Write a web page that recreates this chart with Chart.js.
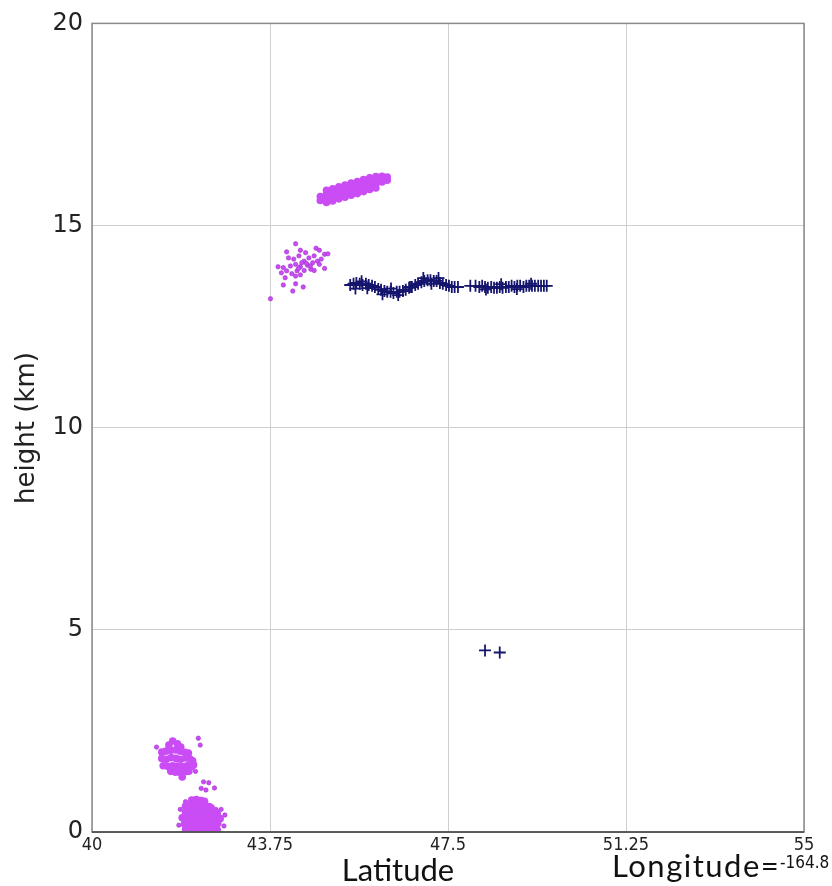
<!DOCTYPE html>
<html>
<head>
<meta charset="utf-8">
<script src="https://cdn.jsdelivr.net/npm/chart.js@4/dist/chart.umd.min.js"></script>
<style>
  body { margin: 0; background: #fff; }
  #wrap { width: 832px; height: 886px; position: relative; }
</style>
</head>
<body>
<div id="wrap"><canvas id="myChart"></canvas></div>
<script>
// tick positions
var latTicks = [40, 43.75, 47.5, 51.25, 55];
var hgtTicks = [0, 5, 10, 15, 20];

// upper elongated cloud (dense)
var upperLat = [44.81, 44.94, 45.07, 45.20, 45.33, 45.46, 45.59, 45.72, 45.85, 45.98, 46.11, 46.22,
                44.81, 44.94, 45.07, 45.20, 45.33, 45.46, 45.59, 45.72, 45.85, 45.98, 46.11, 46.22,
                44.94, 45.07, 45.20, 45.33, 45.46, 45.59, 45.72, 45.85, 45.98, 46.11,
                44.94, 45.07, 45.20, 45.33, 45.46, 45.59, 45.72, 45.85, 45.98];
var upperHgt = [15.72, 15.77, 15.81, 15.86, 15.90, 15.95, 15.99, 16.04, 16.09, 16.13, 16.18, 16.20,
                15.62, 15.67, 15.71, 15.76, 15.80, 15.85, 15.89, 15.94, 15.99, 16.03, 16.08, 16.12,
                15.87, 15.91, 15.96, 16.00, 16.05, 16.09, 16.14, 16.18, 16.21, 16.22,
                15.57, 15.61, 15.66, 15.70, 15.75, 15.79, 15.84, 15.89, 15.93];

// loose group just under it
var midLat = [44.29, 44.10, 44.39, 44.50, 44.72, 44.79, 44.90, 44.97, 44.14, 44.25,
              44.36, 44.47, 44.57, 44.68, 44.75, 44.83, 43.92, 44.03, 44.18, 44.29,
              44.39, 44.54, 44.65, 44.79, 44.90, 43.99, 44.10, 44.21, 44.32, 44.47,
              44.61, 44.07, 44.29, 44.39, 44.68, 44.03, 44.29, 44.45, 44.23, 43.76,
              44.42, 44.52, 44.35, 44.60];
var midHgt = [14.55, 14.35, 14.39, 14.33, 14.44, 14.39, 14.29, 14.30, 14.20, 14.17,
              14.25, 14.12, 14.20, 14.25, 14.12, 14.17, 13.98, 13.96, 14.00, 14.04,
              13.98, 14.02, 14.08, 14.04, 13.94, 13.83, 13.88, 13.81, 13.88, 13.89,
              13.92, 13.71, 13.75, 13.78, 13.89, 13.53, 13.56, 13.48, 13.38, 13.19,
              14.08, 14.06, 13.94, 14.00];

// low cloud around 1.8 km (dense)
var lowLat = [41.62, 41.70, 41.80, 41.87,
              41.47, 41.56, 41.66, 41.76, 41.86, 41.96, 42.03,
              41.47, 41.57, 41.67, 41.77, 41.87, 41.97, 42.07, 42.12,
              41.50, 41.60, 41.70, 41.80, 41.90, 42.00, 42.10, 42.14,
              41.66, 41.76, 41.86, 41.96, 42.04, 41.90];
var lowHgt = [2.15, 2.25, 2.18, 2.10,
              1.98, 2.00, 2.02, 2.03, 2.00, 1.97, 1.95,
              1.82, 1.80, 1.84, 1.82, 1.80, 1.83, 1.80, 1.76,
              1.64, 1.62, 1.64, 1.63, 1.62, 1.64, 1.62, 1.66,
              1.50, 1.48, 1.47, 1.49, 1.50, 1.36];
var lowStrayLat = [42.24, 42.28, 41.36, 42.18];
var lowStrayHgt = [2.32, 2.15, 2.10, 1.50];

// near-surface cloud (dense)
var sfcLat = [42.10, 42.20, 42.30, 42.37,
              41.97, 42.07, 42.17, 42.27, 42.37, 42.47, 42.51,
              41.97, 42.07, 42.17, 42.27, 42.37, 42.47, 42.57, 42.64,
              41.90, 42.00, 42.10, 42.20, 42.30, 42.40, 42.50, 42.60, 42.70,
              41.95, 42.05, 42.15, 42.25, 42.35, 42.45, 42.55, 42.65,
              41.97, 42.07, 42.17, 42.27, 42.37, 42.47, 42.57, 42.64];
var sfcHgt = [0.79, 0.80, 0.78, 0.76,
              0.64, 0.66, 0.65, 0.64, 0.66, 0.63, 0.60,
              0.49, 0.50, 0.51, 0.49, 0.50, 0.48, 0.50, 0.46,
              0.35, 0.34, 0.36, 0.35, 0.34, 0.36, 0.35, 0.34, 0.33,
              0.20, 0.21, 0.19, 0.20, 0.21, 0.20, 0.19, 0.21,
              0.06, 0.05, 0.06, 0.05, 0.06, 0.05, 0.06, 0.05];
var sfcStrayLat = [42.35, 42.46, 42.30, 42.58, 42.40, 42.20, 41.97, 41.86, 42.61, 42.72, 42.80, 41.83, 42.78];
var sfcStrayHgt = [1.24, 1.22, 1.08, 1.09, 1.04, 0.83, 0.75, 0.56, 0.56, 0.56, 0.42, 0.17, 0.15];

// cross track
var crossLat = [45.44, 45.51, 45.57, 45.64, 45.70, 45.77, 45.83, 45.90, 45.96, 46.03,
                46.09, 46.16, 46.22, 46.29, 46.35, 46.42, 46.48, 46.55, 46.61, 46.68,
                46.74, 46.81, 46.87, 46.94, 47.00, 47.07, 47.13, 47.20, 47.26, 47.33,
                47.39, 47.46, 47.52, 47.58, 47.64, 47.71,
                47.97, 48.08, 48.16, 48.22, 48.28, 48.34, 48.41, 48.47, 48.53, 48.59,
                48.65, 48.72, 48.78, 48.84, 48.90, 48.96, 49.02, 49.09, 49.15, 49.21,
                49.27, 49.33, 49.40, 49.46, 49.52, 49.58,
                45.55, 45.68, 45.80, 46.12, 46.30, 46.45, 46.70, 46.98, 47.15, 47.30,
                48.30, 48.62, 48.95, 49.25,
                48.28, 48.59];
var crossHgt = [13.53, 13.56, 13.58, 13.56, 13.53, 13.56, 13.53, 13.51, 13.48, 13.43,
                13.41, 13.38, 13.36, 13.36, 13.33, 13.36, 13.36, 13.38, 13.41, 13.46,
                13.48, 13.53, 13.56, 13.60, 13.63, 13.65, 13.65, 13.63, 13.63, 13.58,
                13.56, 13.53, 13.51, 13.48, 13.48, 13.48,
                13.51, 13.51, 13.48, 13.51, 13.48, 13.46, 13.48, 13.46, 13.46, 13.48,
                13.46, 13.48, 13.48, 13.51, 13.48, 13.51, 13.51, 13.48, 13.51, 13.51,
                13.51, 13.51, 13.51, 13.51, 13.51, 13.51,
                13.44, 13.62, 13.45, 13.30, 13.44, 13.28, 13.48, 13.70, 13.56, 13.70,
                13.42, 13.55, 13.43, 13.56,
                4.49, 4.44];

function pts(lat, hgt){
    return lat.map(function(v, i){ return {x: v, y: hgt[i]}; });
}

var MAGENTA = '#c94cf5';
var NAVY = '#15156e';

var frame = {
    id: 'frame',
    afterDraw: function(chart){
        var c = chart.ctx, a = chart.chartArea;
        c.save();
        c.strokeStyle = '#8a8a8a';
        c.lineWidth = 1.5;
        c.strokeRect(a.left, a.top, a.right - a.left, a.bottom - a.top);
        c.strokeStyle = '#444';
        c.beginPath(); c.moveTo(a.left, a.bottom); c.lineTo(a.right, a.bottom); c.stroke();

        c.fillStyle = '#222';
        c.font = '26px "DejaVu Sans"';
        c.textAlign = 'center';
        c.textBaseline = 'middle';
        c.translate(27, 428);
        c.rotate(-Math.PI / 2);
        c.fillText('height (km)', 0, 0);
        c.restore();

        c.save();
        c.fillStyle = '#111';
        c.textBaseline = 'alphabetic';
        c.font = '31px Lato';
        c.textAlign = 'center';
        c.fillText('Latitude', 398, 881);
        c.textAlign = 'left';
        c.letterSpacing = '1.5px';
        c.fillText('Longitude=', 612, 877);
        c.letterSpacing = '0px';
        c.font = '17px "DejaVu Sans Condensed", "DejaVu Sans"';
        c.fillText('-164.8', 780, 868);
        c.restore();
    }
};

var ctx = document.getElementById('myChart').getContext('2d');
var myChart = new Chart(ctx, {
    type: 'scatter',
    data: {
        datasets: [
            {data: pts(upperLat, upperHgt).concat(pts(lowLat, lowHgt), pts(sfcLat, sfcHgt)),
             backgroundColor: MAGENTA, borderWidth: 0, pointRadius: 3.8},
            {data: pts(midLat, midHgt).concat(pts(lowStrayLat, lowStrayHgt), pts(sfcStrayLat, sfcStrayHgt)),
             backgroundColor: MAGENTA, borderColor: '#a030c8', borderWidth: 0.6, pointRadius: 2.2},
            {data: pts(crossLat, crossHgt),
             pointStyle: 'cross', borderColor: NAVY, borderWidth: 1.8, pointRadius: 6}
        ]
    },
    options: {
        responsive: true,
        maintainAspectRatio: false,
        animation: false,
        layout: {padding: {top: 22, right: 28, left: 0, bottom: 0}},
        plugins: {legend: {display: false}, tooltip: {enabled: false}},
        scales: {
            x: {
                type: 'linear', min: 40, max: 55,
                afterBuildTicks: function(s){ s.ticks = latTicks.map(function(v){ return {value: v}; }); },
                afterFit: function(s){ s.height = 54; },
                grid: {color: '#cfcfcf', lineWidth: 1, drawTicks: false},
                border: {display: false},
                ticks: {
                    padding: 3, color: '#222', maxRotation: 0,
                    font: {family: '"DejaVu Sans Condensed", "DejaVu Sans"', size: 18},
                    callback: function(v){ return String(v); }
                }
            },
            y: {
                min: 0, max: 20,
                afterBuildTicks: function(s){ s.ticks = hgtTicks.map(function(v){ return {value: v}; }); },
                afterFit: function(s){ s.width = 92; },
                grid: {color: '#cfcfcf', lineWidth: 1, drawTicks: false},
                border: {display: false},
                ticks: {
                    padding: 9, color: '#222',
                    font: {family: '"DejaVu Sans"', size: 24}
                }
            }
        }
    },
    plugins: [frame]
});
</script>
</body>
</html>
